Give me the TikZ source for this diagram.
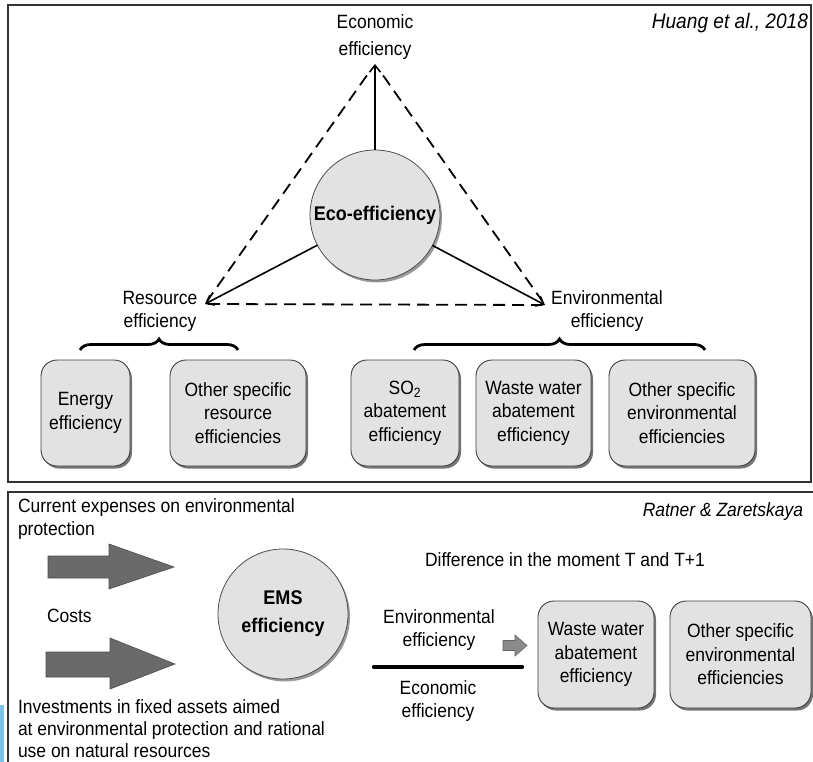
\documentclass[tikz,border=0pt]{standalone}
\usepackage{fontspec}
\setmainfont{Liberation Sans}[FakeStretch=0.91]
\usetikzlibrary{arrows.meta,shadows,decorations.pathreplacing,calc}
\definecolor{boxfill}{HTML}{E2E2E2}
\definecolor{arrowgray}{HTML}{6A6A6A}
\definecolor{smallgray}{HTML}{8A8A8A}
\definecolor{barblue}{HTML}{7CC3E6}
\begin{document}
\begin{tikzpicture}[x=1pt,y=-1pt,
  every node/.style={inner sep=0pt, outer sep=0pt},
  txt/.style={font=\fontsize{19.2}{23}\selectfont, align=center},
  ltxt/.style={font=\fontsize{19.2}{22.5}\selectfont, align=left, anchor=west},
  effbox/.style={draw=black!75, line width=0.9pt, fill=boxfill, rounded corners=16pt,
    drop shadow={shadow xshift=2pt, shadow yshift=-2.5pt, fill=black!60, opacity=0.9},
    align=center, font=\fontsize{19.2}{23.5}\selectfont},
  effcirc/.style={circle, draw=black!70, line width=0.8pt, fill=boxfill,
    drop shadow={shadow xshift=2pt, shadow yshift=-2.5pt, fill=black!50, opacity=0.8},
    minimum size=130pt, font=\bfseries\fontsize{19.8}{28}\selectfont, align=center},
  dashline/.style={dash pattern=on 12pt off 7pt, line width=1.8pt},
  solidline/.style={line width=1.6pt},
  tipend/.style={-{Straight Barb[length=7pt,width=11pt,line width=1.5pt]}},
  frameline/.style={draw=black!80, line width=1.2pt},
  bigarrow/.style={fill=arrowgray, draw=black!70, line width=0.6pt},
  bracestyle/.style={decorate, decoration={brace, amplitude=11pt}, line width=2.8pt},
]
\useasboundingbox (0,0) rectangle (813,762);
\fill[barblue] (0,705) rectangle (3.5,762);

% ---------- top panel ----------
\draw[frameline] (8,5) rectangle (811,482);
\node[font=\itshape\fontsize{21}{23}\selectfont, anchor=east] (huang) at (808,23) {Huang et al., 2018};

\coordinate (A) at (375,64);
\coordinate (L) at (205,304);
\coordinate (R) at (545,305);

\node[txt, font=\fontsize{19.2}{27}\selectfont] (econ) at (375,37) {Economic\\efficiency};
\node[txt] (res) at (160,311) {Resource\\efficiency};
\node[txt] (envt) at (607,311) {Environmental\\efficiency};

\draw[dashline, shorten <=14pt, shorten >=4pt] (A) -- (L);
\draw[dashline, shorten <=14pt, shorten >=4pt] (A) -- (R);
\draw[dashline, shorten <=3pt, shorten >=3pt] (L) -- (R);

\node[effcirc] (eco) at (375,215) {Eco-efficiency};
\draw[solidline, tipend] (eco) -- (A);
\draw[solidline, tipend] (eco) -- (L);
\draw[solidline, tipend] (eco) -- (R);

\coordinate (b1l) at (80,350);
\coordinate (b1r) at (238,350);
\coordinate (b2l) at (414,350);
\coordinate (b2r) at (705,350);
\draw[bracestyle] (b1l) -- (b1r);
\draw[bracestyle] (b2l) -- (b2r);

\node[effbox, minimum width=89pt, minimum height=106pt] (energy) at (85.5,413) {Energy\\efficiency};
\node[effbox, minimum width=136pt, minimum height=106pt] (othres) at (238,413) {Other specific\\resource\\efficiencies};
\node[effbox, minimum width=108pt, minimum height=106pt] (so2) at (405,413) {SO\textsubscript{2}\\abatement\\efficiency};
\node[effbox, minimum width=115pt, minimum height=106pt] (waste1) at (533.5,413) {Waste water\\abatement\\efficiency};
\node[effbox, minimum width=146pt, minimum height=106pt] (othenv1) at (682,413) {Other specific\\environmental\\efficiencies};

% ---------- bottom panel ----------
\draw[frameline] (813,492) -- (8,492) -- (8,762);
\node[font=\itshape\fontsize{19.2}{23}\selectfont, anchor=east] (ratner) at (803,512) {Ratner \& Zaretskaya};
\node[ltxt] (curexp) at (18,519) {Current expenses on environmental\\protection};
\node[ltxt] (costs) at (47,616) {Costs};
\node[ltxt, font=\fontsize{19.2}{22}\selectfont] (invest) at (18,729) {Investments in fixed assets aimed\\at environmental protection and rational\\use on natural resources};

\draw[bigarrow] (48,556) -- (109,556) -- (109,544) -- (174,567) -- (109,589) -- (109,578) -- (48,578) -- cycle;
\draw[bigarrow] (46,652) -- (110,652) -- (110,638) -- (175,664) -- (110,689) -- (110,677) -- (46,677) -- cycle;

\node[effcirc] (ems) at (283,614) {EMS\\efficiency};

\node[txt] (diff) at (565,560) {Difference in the moment T and T+1};
\node[txt] (envb) at (439,630) {Environmental\\efficiency};
\node[txt] (econb) at (438,701) {Economic\\efficiency};
\coordinate (tl1) at (374,667);
\coordinate (tl2) at (522,667);
\draw[line width=4.2pt, line cap=round] (tl1) -- (tl2);
\draw[fill=smallgray, draw=black!60, line width=0.6pt] (503,640.5) -- (515,640.5) -- (515,635) -- (527,645.5) -- (515,656) -- (515,650.5) -- (503,650.5) -- cycle;

\node[effbox, minimum width=116pt, minimum height=107pt] (waste2) at (596,654.5) {Waste water\\abatement\\efficiency};
\node[effbox, minimum width=141pt, minimum height=107pt] (othenv2) at (740.5,654.5) {Other specific\\environmental\\efficiencies};
\end{tikzpicture}
\end{document}
